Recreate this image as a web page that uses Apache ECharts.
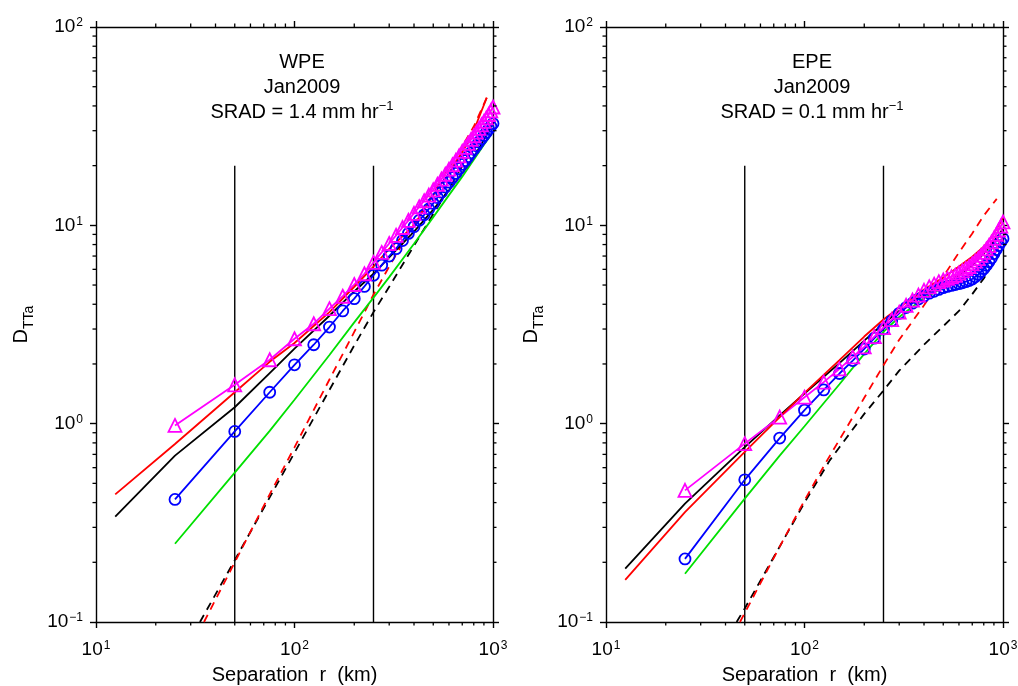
<!DOCTYPE html>
<html><head><meta charset="utf-8">
<script src="https://cdn.jsdelivr.net/npm/echarts@6/dist/echarts.min.js"></script>
<style>html,body{margin:0;padding:0;background:#fff}#c{width:1018px;height:686px}</style>
</head><body><div id="c"></div>
<script>
const FONT = '"Liberation Sans", Arial, Helvetica, sans-serif';

// ---------- data ----------
const panelTitles = [['WPE', 'Jan2009', '1.4'], ['EPE', 'Jan2009', '0.1']];
const xTickMinor = [20,30,40,50,60,70,80,90,200,300,400,500,600,700,800,900];
const yTickMinor = [0.2,0.3,0.4,0.5,0.6,0.7,0.8,0.9,2,3,4,5,6,7,8,9,20,30,40,50,60,70,80,90];
const vLineR = [50, 250];
const vLineSpan = [0.1, 20];

// marker series: separation every 25 km
const markR = [25,50,75,100,125,150,175,200,225,250,275,300,325,350,375,400,425,450,475,500,
               525,550,575,600,625,650,675,700,725,750,775,800,825,850,875,900,925,950,975,1000];

// ---- WPE (left) ----
const wpeMagenta = [0.98,1.57,2.10,2.68,3.19,3.80,4.39,5.03,5.70,6.50,7.3,8.1,8.9,9.75,10.6,11.5,12.4,13.3,14.2,15.1,
                    16.1,17.1,18.1,19.2,20.2,21.3,22.4,23.6,24.7,25.9,27.1,28.3,29.5,30.8,32.1,33.4,34.8,36.2,37.8,39.5];
const wpeBlue = [0.415,0.914,1.44,1.98,2.50,3.07,3.70,4.27,4.92,5.60,6.30,7.00,7.63,8.38,9.11,9.85,10.6,11.3,12.1,12.9,
                 13.8,14.7,15.6,16.5,17.4,18.3,19.3,20.3,21.2,22.2,23.2,24.2,25.2,26.3,27.3,28.4,29.4,30.5,31.6,32.6];
const wpeRedR = [12.5,25,50,75,100,150,200,250,300,400,500,600,700,800,930];
const wpeRed  = [0.44,0.79,1.44,2.05,2.55,3.65,4.9,6.2,7.6,10.0,14.2,18.3,23.4,30.0,44.0];
const wpeBlackR = [12.5,25,50,75,100,150,200,250,300,400,500,600,700,800,900,1000];
const wpeBlack  = [0.34,0.69,1.21,1.80,2.39,3.5,4.64,5.7,6.9,9.3,12.0,15.0,18.3,22.0,27.0,33.0];
const wpeGreenR = [25,50,75,100,150,200,250,300,400,500,600,700,800,900,1000];
const wpeGreen  = [0.248,0.566,0.92,1.32,2.22,3.24,4.32,5.48,8.07,11.0,14.2,17.6,21.4,25.5,29.6];
const wpeRedDashR = [35,50,75,100,150,200,250,300,400,500,600,700,800,930];
const wpeRedDash  = [0.1,0.2,0.44,0.76,1.67,2.9,4.47,6.2,10.2,14.5,19.5,25.0,31.5,44.0];
const wpeBlackDashR = [33.4,50,75,100,150,200,250,300,400,500,600,700,800,985];
const wpeBlackDash  = [0.1,0.205,0.425,0.714,1.48,2.48,3.65,4.9,7.9,11.4,15.3,19.9,24.8,35.2];

// ---- EPE (right) ----
const epeMagenta = [0.461,0.793,1.08,1.36,1.62,1.89,2.17,2.44,2.75,3.05,3.35,3.65,3.95,4.2,4.45,4.7,4.9,5.05,5.2,5.3,
                    5.4,5.5,5.6,5.75,5.9,6.05,6.2,6.4,6.6,6.8,7.05,7.3,7.6,7.9,8.25,8.6,9.0,9.45,9.9,10.4];
const epeBlue = [0.208,0.521,0.846,1.17,1.48,1.79,2.08,2.38,2.7,3.0,3.3,3.6,3.85,4.05,4.25,4.4,4.55,4.65,4.75,4.85,
                 4.92,4.98,5.03,5.08,5.13,5.2,5.27,5.36,5.5,5.66,5.85,6.05,6.3,6.55,6.85,7.2,7.55,7.9,8.25,8.57];
const epeRedR = [12.5,25,50,75,100,150,200,250,300,400,500,600,700,800,900,1000];
const epeRed  = [0.163,0.358,0.72,1.08,1.43,2.09,2.75,3.35,3.85,4.75,5.45,6.2,6.95,7.8,9.1,10.9];
const epeBlackR = [12.5,25,50,75,100,150,200,250,300,400,500,600,700,800,900,1000];
const epeBlack  = [0.186,0.395,0.762,1.1,1.42,2.02,2.62,3.2,3.7,4.5,5.05,5.6,6.3,7.2,8.3,9.6];
const epeGreenR = [25,50,75,100,150,200,250,300,400,500,600,700,800,900,1000];
const epeGreen  = [0.175,0.419,0.69,0.97,1.58,2.25,2.9,3.45,4.3,4.85,5.25,5.65,6.4,7.4,8.7];
const epeRedDashR = [47.3,50,75,100,130,150,200,250,300,400,500,600,700,800,930];
const epeRedDash  = [0.1,0.111,0.24,0.41,0.653,0.83,1.35,1.97,2.65,3.95,5.5,7.3,9.1,11.2,13.6];
const epeBlackDashR = [45.5,50,75,100,134,150,200,250,300,400,500,600,700,800,900,980];
const epeBlackDash  = [0.1,0.117,0.24,0.40,0.653,0.76,1.12,1.47,1.85,2.5,3.1,3.7,4.5,5.4,6.5,7.5];

// ---------- chart ----------
const C = {mag:'#ff00ff', blue:'#0000ff', red:'#ff0000', black:'#000000', green:'#00e000'};
const LW = 1.8;
const pairs = (xs, ys) => xs.map((x, i) => [x, ys[i]]);
const supFmt = v => { const e = Math.round(Math.log10(v)); return '10{sup|' + (e < 0 ? '\u2212' + (-e) : e) + '}'; };
const labelRich = { sup: { fontSize: 12, fontFamily: FONT, color: '#000', verticalAlign: 'top', lineHeight: 12, padding: [1,0,0,1] } };

const gridLeft = [96, 606];
const grids = gridLeft.map(l => ({ left: l, top: 27, width: 397, height: 595, containLabel: false, outerBoundsMode: 'none' }));

const xAxes = [], yAxes = [];
grids.forEach((g, gi) => {
  ['bottom', 'top'].forEach(pos => xAxes.push({
    type: 'log', logBase: 10, gridIndex: gi, position: pos, min: 10, max: 1000,
    axisLine: { show: true, lineStyle: { color: '#000', width: 1.4 } },
    axisTick: { show: true, inside: false, length: 6, lineStyle: { color: '#000', width: 1.4 } },
    minorTick: { show: false }, splitLine: { show: false },
    axisLabel: pos === 'bottom' ? { show: true, formatter: supFmt, margin: 17, fontSize: 19, fontFamily: FONT, color: '#000', lineHeight: 22, rich: labelRich } : { show: false },
    name: pos === 'bottom' ? 'Separation  r  (km)' : '', nameLocation: 'middle', nameGap: 41,
    nameTextStyle: { fontSize: 20, fontFamily: FONT, color: '#000' }
  }));
  ['left', 'right'].forEach(pos => yAxes.push({
    type: 'log', logBase: 10, gridIndex: gi, position: pos, min: 0.1, max: 100,
    axisLine: { show: true, lineStyle: { color: '#000', width: 1.4 } },
    axisTick: { show: true, inside: false, length: 6, lineStyle: { color: '#000', width: 1.4 } },
    minorTick: { show: false }, splitLine: { show: false },
    axisLabel: pos === 'left' ? { show: true, formatter: supFmt, margin: 13, fontSize: 19, fontFamily: FONT, color: '#000', lineHeight: 22, rich: labelRich } : { show: false },
    name: pos === 'left' ? 'D{sub|TTa}' : '', nameLocation: 'middle', nameGap: 65, nameRotate: 90,
    nameTextStyle: { fontSize: 20, fontFamily: FONT, color: '#000',
      rich: { sub: { fontSize: 14, fontFamily: FONT, color: '#000', verticalAlign: 'bottom', lineHeight: 14, padding: [0,0,-5,0] } } }
  }));
});

const series = [];
function minorTicks(gi) {
  const xi = gi * 2, yi = gi * 2;
  series.push({
    type: 'custom', xAxisIndex: xi, yAxisIndex: yi, clip: false, silent: true, z: 10,
    data: xTickMinor.map(v => [v, 1]),
    renderItem: (params, api) => {
      const b = api.coord([api.value(0), 0.1]), t = api.coord([api.value(0), 100]);
      const st = { stroke: '#000', lineWidth: 1.3 };
      return { type: 'group', children: [
        { type: 'line', shape: { x1: b[0], y1: b[1], x2: b[0], y2: b[1] + 3.5 }, style: st },
        { type: 'line', shape: { x1: t[0], y1: t[1], x2: t[0], y2: t[1] - 3.5 }, style: st } ] };
    }
  });
  series.push({
    type: 'custom', xAxisIndex: xi, yAxisIndex: yi, clip: false, silent: true, z: 10,
    data: yTickMinor.map(v => [20, v]),
    renderItem: (params, api) => {
      const l = api.coord([10, api.value(1)]), r = api.coord([1000, api.value(1)]);
      const st = { stroke: '#000', lineWidth: 1.3 };
      return { type: 'group', children: [
        { type: 'line', shape: { x1: l[0], y1: l[1], x2: l[0] - 3.5, y2: l[1] }, style: st },
        { type: 'line', shape: { x1: r[0], y1: r[1], x2: r[0] + 3.5, y2: r[1] }, style: st } ] };
    }
  });
}

function line(gi, xs, ys, color, dashed) {
  series.push({ type: 'line', xAxisIndex: gi * 2, yAxisIndex: gi * 2, data: pairs(xs, ys),
    symbol: 'none', clip: true, lineStyle: { color, width: LW, type: dashed ? [8, 6] : 'solid' } });
}
function marks(gi, ys, color, sym) {
  series.push({ type: 'line', xAxisIndex: gi * 2, yAxisIndex: gi * 2, data: pairs(markR, ys),
    symbol: sym, symbolSize: sym === 'triangle' ? 13 : 11, showSymbol: true, showAllSymbol: true, clip: true,
    lineStyle: { color, width: LW },
    itemStyle: { color: 'rgba(0,0,0,0)', borderColor: color, borderWidth: LW } });
}
function vlines(gi) {
  vLineR.forEach(r => series.push({ type: 'line', xAxisIndex: gi * 2, yAxisIndex: gi * 2,
    data: [[r, vLineSpan[0]], [r, vLineSpan[1]]], symbol: 'none', lineStyle: { color: '#000', width: 1.4 } }));
}

const panels = [
  { bd: wpeBlackDash, bdR: wpeBlackDashR, rd: wpeRedDash, rdR: wpeRedDashR, g: wpeGreen, gR: wpeGreenR,
    k: wpeBlack, kR: wpeBlackR, b: wpeBlue, m: wpeMagenta, r: wpeRed, rR: wpeRedR },
  { bd: epeBlackDash, bdR: epeBlackDashR, rd: epeRedDash, rdR: epeRedDashR, g: epeGreen, gR: epeGreenR,
    k: epeBlack, kR: epeBlackR, b: epeBlue, m: epeMagenta, r: epeRed, rR: epeRedR }
];
panels.forEach((p, gi) => {
  vlines(gi);
  line(gi, p.bdR, p.bd, C.black, true);
  line(gi, p.rdR, p.rd, C.red, true);
  line(gi, p.gR, p.g, C.green, false);
  line(gi, p.kR, p.k, C.black, false);
  marks(gi, p.b, C.blue, 'circle');
  marks(gi, p.m, C.mag, 'triangle');
  line(gi, p.rR, p.r, C.red, false);
  minorTicks(gi);
});

const graphic = panelTitles.map((t, gi) => ({
  type: 'text', x: gridLeft[gi] + 206, y: 50, z: 100,
  style: {
    text: t[0] + '\n' + t[1] + '\nSRAD = ' + t[2] + ' mm hr{sup|\u22121}',
    align: 'center', verticalAlign: 'top', fontSize: 20, fontFamily: FONT, fill: '#000', lineHeight: 25,
    rich: { sup: { fontSize: 13, fontFamily: FONT, fill: '#000', verticalAlign: 'top', lineHeight: 13 } }
  }
}));

const chart = echarts.init(document.getElementById('c'), null, { renderer: 'canvas' });
chart.setOption({ animation: false, backgroundColor: '#fff', grid: grids, xAxis: xAxes, yAxis: yAxes, series, graphic });
</script>
</body></html>
